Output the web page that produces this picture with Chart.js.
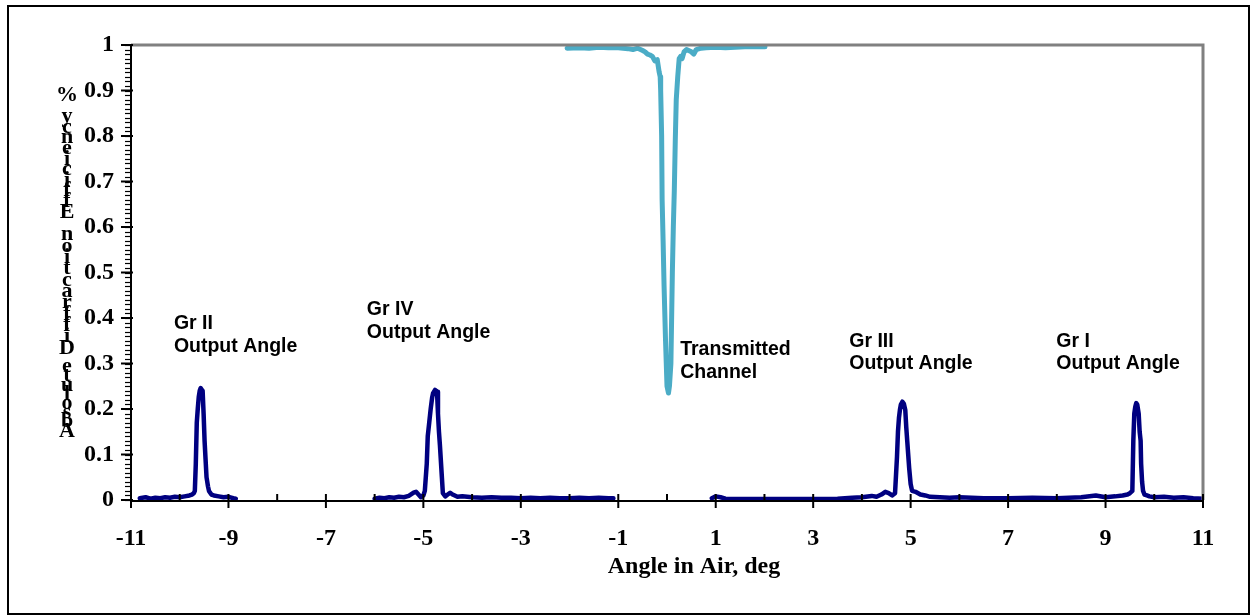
<!DOCTYPE html>
<html><head><meta charset="utf-8">
<script src="https://cdn.jsdelivr.net/npm/chart.js@4.4.1/dist/chart.umd.min.js"></script>
<style>html,body{margin:0;padding:0;background:#fff;} #wrap{width:1251px;height:616px;position:relative;}</style>
</head><body><div id="wrap"><canvas id="c"></canvas></div>
<script>
const xTicks = [-11,-9,-7,-5,-3,-1,1,3,5,7,9,11];
const yTicks = [0,0.1,0.2,0.3,0.4,0.5,0.6,0.7,0.8,0.9,1];
const xTitle = 'Angle in Air, deg';
const yTitle = 'Absolute Diffraction Efficiency %';

// Gr II region (navy)
const grIIx = [-10.82,-10.7,-10.6,-10.5,-10.4,-10.3,-10.2,-10.1,-10.0,-9.9,-9.8,-9.75,-9.71,-9.69,-9.67,-9.65,-9.63,-9.61,-9.59,-9.57,-9.55,-9.53,-9.51,-9.49,-9.47,-9.45,-9.42,-9.4,-9.35,-9.3,-9.2,-9.1,-9.0,-8.9,-8.85];
const grIIy = [0.004,0.006,0.003,0.005,0.004,0.006,0.005,0.007,0.006,0.008,0.01,0.012,0.015,0.02,0.08,0.17,0.2,0.226,0.24,0.246,0.243,0.24,0.19,0.13,0.09,0.05,0.03,0.02,0.012,0.01,0.008,0.006,0.007,0.004,0.003];
// Gr IV region (navy)
const grIVx = [-6.0,-5.9,-5.8,-5.7,-5.6,-5.5,-5.4,-5.3,-5.2,-5.15,-5.1,-5.05,-5.0,-4.97,-4.93,-4.91,-4.88,-4.85,-4.82,-4.8,-4.76,-4.72,-4.7,-4.68,-4.66,-4.62,-4.6,-4.55,-4.5,-4.45,-4.4,-4.3,-4.2,-4.0,-3.8,-3.6,-3.4,-3.2,-3.0,-2.8,-2.6,-2.4,-2.2,-2.0,-1.8,-1.6,-1.4,-1.2,-1.1];
const grIVy = [0.003,0.005,0.004,0.006,0.005,0.007,0.006,0.009,0.016,0.018,0.012,0.006,0.01,0.02,0.08,0.14,0.17,0.2,0.225,0.235,0.242,0.238,0.19,0.15,0.12,0.05,0.015,0.008,0.012,0.016,0.012,0.007,0.008,0.006,0.005,0.006,0.005,0.005,0.004,0.005,0.004,0.005,0.004,0.004,0.005,0.004,0.005,0.004,0.004];
// Gr III + Gr I region (navy)
const grIIIx = [0.92,1.0,1.1,1.2,1.5,2.0,2.5,3.0,3.5,3.8,4.0,4.2,4.3,4.4,4.48,4.55,4.62,4.68,4.72,4.74,4.76,4.78,4.8,4.83,4.86,4.89,4.91,4.93,4.95,4.97,5.0,5.03,5.1,5.2,5.3,5.4,5.6,5.8,6.0,6.5,7.0,7.5,8.0,8.5,8.8,9.0,9.2,9.35,9.45,9.5,9.55,9.57,9.59,9.61,9.63,9.65,9.68,9.70,9.72,9.73,9.75,9.77,9.8,9.85,9.9,10.0,10.2,10.4,10.6,10.8,11.0];
const grIIIy = [0.004,0.008,0.006,0.003,0.002,0.002,0.002,0.002,0.003,0.005,0.006,0.009,0.007,0.012,0.018,0.015,0.01,0.015,0.095,0.15,0.18,0.198,0.21,0.216,0.212,0.198,0.16,0.13,0.1,0.07,0.035,0.02,0.018,0.012,0.01,0.007,0.006,0.005,0.006,0.004,0.004,0.005,0.004,0.006,0.01,0.006,0.008,0.01,0.012,0.015,0.02,0.13,0.19,0.205,0.213,0.21,0.19,0.15,0.13,0.08,0.04,0.02,0.012,0.01,0.008,0.006,0.007,0.005,0.006,0.004,0.003];
// Transmitted channel (light blue)
const transX = [-2.05,-1.8,-1.6,-1.4,-1.2,-1.0,-0.8,-0.7,-0.6,-0.5,-0.45,-0.4,-0.35,-0.3,-0.25,-0.2,-0.16,-0.14,-0.13,-0.11,-0.1,-0.08,-0.06,-0.03,0.0,0.03,0.05,0.08,0.11,0.13,0.15,0.17,0.19,0.22,0.25,0.28,0.31,0.35,0.4,0.5,0.55,0.6,0.7,0.8,1.0,1.2,1.4,1.6,1.8,2.01];
const transY = [0.993,0.994,0.993,0.995,0.994,0.994,0.992,0.99,0.993,0.988,0.985,0.98,0.978,0.975,0.965,0.968,0.94,0.93,0.9,0.8,0.66,0.57,0.47,0.35,0.25,0.235,0.25,0.3,0.5,0.6,0.68,0.79,0.88,0.93,0.97,0.975,0.97,0.985,0.99,0.985,0.98,0.99,0.993,0.994,0.995,0.994,0.995,0.996,0.996,0.996];

const labels = [
  {lines:['Gr II','Output Angle'], x:-10.12, y:0.387},
  {lines:['Gr IV','Output Angle'], x:-6.16, y:0.418},
  {lines:['Transmitted','Channel'], x:0.27, y:0.330},
  {lines:['Gr III','Output Angle'], x:3.74, y:0.349},
  {lines:['Gr I','Output Angle'], x:7.99, y:0.349}
];

const pts = (xs, ys) => xs.map((x, i) => ({x, y: ys[i]}));
const NAVY = '#000080', LB = '#4BACC6';

const deco = {
  id: 'deco',
  afterDraw(chart) {
    const ctx = chart.ctx, xs = chart.scales.x, ys = chart.scales.y, a = chart.chartArea;
    ctx.save();
    ctx.strokeStyle = '#808080'; ctx.lineWidth = 3;
    ctx.beginPath(); ctx.moveTo(a.left, a.top); ctx.lineTo(a.right, a.top); ctx.lineTo(a.right, a.bottom); ctx.stroke();
    ctx.strokeStyle = '#000'; ctx.lineWidth = 2;
    ctx.beginPath(); ctx.moveTo(a.left, a.top); ctx.lineTo(a.left, a.bottom + 1); ctx.lineTo(a.right, a.bottom + 1); ctx.stroke();
    ctx.lineWidth = 1.2;
    for (let i = 0; i <= 100; i++) {
      const y = Math.round(ys.getPixelForValue(i / 100)) + 0.5;
      ctx.beginPath(); ctx.moveTo(a.left - 6, y); ctx.lineTo(a.left, y); ctx.stroke();
    }
    ctx.lineWidth = 2;
    yTicks.forEach(v => {
      const y = ys.getPixelForValue(v);
      ctx.beginPath(); ctx.moveTo(a.left - 10, y); ctx.lineTo(a.left + 2, y); ctx.stroke();
    });
    for (let v = -11; v <= 11; v++) {
      const x = xs.getPixelForValue(v);
      const major = xTicks.includes(v);
      ctx.beginPath(); ctx.moveTo(x, a.bottom - 6); ctx.lineTo(x, major ? a.bottom + 8 : a.bottom); ctx.stroke();
    }
    ctx.lineWidth = 2; ctx.strokeStyle = '#000';
    ctx.strokeRect(8, 6, 1241, 608);
    ctx.fillStyle = '#000';
    ctx.font = 'bold 24px "Liberation Serif"';
    ctx.textAlign = 'center'; ctx.textBaseline = 'middle';
    ctx.fillText(xTitle, 694, 567);
    ctx.font = 'bold 22px "Liberation Serif"';
    const chars = yTitle.split('');
    const anchors = [[0, 431], [9, 348], [21, 212], [32, 95]];
    chars.forEach((ch, i) => {
      let yy = 0;
      for (let k = 0; k < anchors.length - 1; k++) {
        const [i0, y0] = anchors[k], [i1, y1] = anchors[k + 1];
        if (i >= i0 && i <= i1) { yy = y0 + (y1 - y0) * (i - i0) / (i1 - i0); break; }
      }
      ctx.fillText(ch, 67, yy);
    });
    ctx.font = 'bold 19.5px "Liberation Sans"';
    ctx.textAlign = 'left';
    labels.forEach(l => {
      const px = xs.getPixelForValue(l.x), py = ys.getPixelForValue(l.y);
      l.lines.forEach((t, j) => ctx.fillText(t, px, py + j * 22.5));
    });
    ctx.restore();
  }
};

new Chart(document.getElementById('c'), {
  type: 'line',
  data: {
    datasets: [
      {data: pts(transX, transY), borderColor: LB, borderWidth: 5},
      {data: pts(grIIx, grIIy), borderColor: NAVY, borderWidth: 4.5},
      {data: pts(grIVx, grIVy), borderColor: NAVY, borderWidth: 4.5},
      {data: pts(grIIIx, grIIIy), borderColor: NAVY, borderWidth: 4.5}
    ]
  },
  options: {
    responsive: true,
    maintainAspectRatio: false,
    animation: false,
    layout: {padding: {left: 0, top: 45, right: 48, bottom: 0}},
    elements: {point: {radius: 0}, line: {tension: 0, borderJoinStyle: 'round', borderCapStyle: 'round'}},
    plugins: {legend: {display: false}, tooltip: {enabled: false}},
    scales: {
      x: {
        type: 'linear', min: -11, max: 11,
        grid: {display: false}, border: {display: false},
        afterBuildTicks: s => { s.ticks = xTicks.map(v => ({value: v})); },
        afterFit: s => { s.height = 116; },
        ticks: {color: '#000', font: {family: 'Liberation Serif', size: 24, weight: 'bold'}, padding: 16, maxRotation: 0, autoSkip: false,
                callback: v => String(v)}
      },
      y: {
        type: 'linear', min: 0, max: 1,
        grid: {display: false}, border: {display: false},
        afterBuildTicks: s => { s.ticks = yTicks.map(v => ({value: v})); },
        afterFit: s => { s.width = 131; },
        ticks: {color: '#000', font: {family: 'Liberation Serif', size: 24, weight: 'bold'}, padding: 9,
                callback: v => String(Math.round(v * 10) / 10)}
      }
    }
  },
  plugins: [deco]
});
</script>
</body></html>
